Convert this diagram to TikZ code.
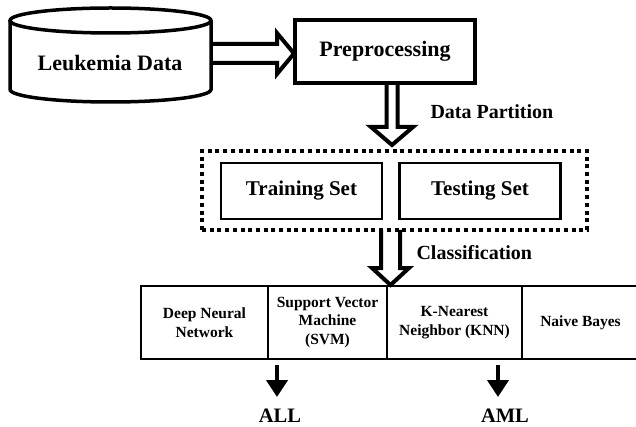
\documentclass[tikz,border=0pt]{standalone}
\usepackage{fontspec}
\setmainfont{Liberation Serif}
\usetikzlibrary{calc,arrows.meta}

% hollow block arrows: start, tip, shaft half width, head half width, head length
\newcommand{\rightblock}[5]{%
  \draw[blockarrow] ($(#1)+(0,-#3)$) -- ($(#2)+(-#5,-#3)$) -- ($(#2)+(-#5,-#4)$) -- (#2)
    -- ($(#2)+(-#5,#4)$) -- ($(#2)+(-#5,#3)$) -- ($(#1)+(0,#3)$);}
\newcommand{\downblock}[5]{%
  \draw[blockarrow] ($(#1)+(-#3,0)$) -- ($(#2)+(-#3,-#5)$) -- ($(#2)+(-#4,-#5)$) -- (#2)
    -- ($(#2)+(#4,-#5)$) -- ($(#2)+(#3,-#5)$) -- ($(#1)+(#3,0)$);}

\begin{document}
\begin{tikzpicture}[x=1pt, y=-1pt,
    bigfont/.style={font=\fontsize{22}{26}\selectfont\bfseries},
    midfont/.style={font=\fontsize{20}{24}\selectfont\bfseries},
    bigbox/.style={draw, line width=3.5pt, bigfont, minimum width=180pt, minimum height=63pt},
    setbox/.style={draw, line width=2.5pt, font=\fontsize{21}{25}\selectfont\bfseries,
      minimum width=161pt, minimum height=56pt},
    dotbox/.style={draw, line width=4pt, dash pattern=on 4pt off 3.7pt},
    cell/.style={draw, line width=2.5pt, align=center, minimum height=73pt,
      font=\fontsize{15.5}{18.5}\selectfont\bfseries},
    blockarrow/.style={line width=4pt, line join=miter},
    cylline/.style={line width=3.5pt},
    outarrow/.style={line width=4pt, -{Triangle[width=21pt,length=17pt]}},
    outlabel/.style={inner sep=0pt, font=\fontsize{20.5}{24}\selectfont\bfseries}]
    \useasboundingbox (0,0) rectangle (636,427);

    % data store
    \draw[cylline] (10,20.5) -- (10,89.5)
      arc[start angle=180, end angle=360, x radius=100.5pt, y radius=12.5pt] -- (211,20.5);
    \draw[cylline] (110.5,20.5) ellipse [x radius=100.5pt, y radius=12.5pt];
    \node[bigfont] (leuk) at (110,63) {Leukemia Data};

    \node[bigbox] (pre) at (385,51.5) {Preprocessing};

    \node[dotbox, minimum width=385pt, minimum height=79pt] (parts) at (394.5,190.5) {};
    \node[setbox] (train) at (301.5,191) {Training Set};
    \node[setbox] (test) at (480,191) {Testing Set};

    % classifiers
    \node[cell, minimum width=127pt] (dnn) at (204.5,322.5) {Deep Neural\\Network};
    \node[cell, minimum width=119pt] (svm) at (327.5,322.5) {Support Vector\\Machine\\(SVM)};
    \node[cell, minimum width=135pt] (knn) at (454.5,322.5) {K-Nearest\\Neighbor (KNN)};
    \node[cell, minimum width=117pt] (nb) at (580.5,322.5) {Naive Bayes};

    \node[outlabel, anchor=north] (all) at (280,409) {ALL};
    \node[outlabel, anchor=north] (aml) at (505,409) {AML};

    % block arrows
    \coordinate (cylout) at (211,53.5);
    \coordinate (prein) at (294,53.5);
    \rightblock{cylout}{prein}{9.5}{20.5}{17}
    \coordinate (prefrom) at (392,83);
    \coordinate (partin) at (392,145);
    \downblock{prefrom}{partin}{5.5}{21}{18}
    \coordinate (partfrom) at (390.5,230);
    \coordinate (cellin) at (390.5,285);
    \downblock{partfrom}{cellin}{9.5}{18.5}{17}
    \node[midfont, anchor=west] (dplabel) at (427,112) {Data Partition};
    \node[midfont, anchor=west] (cllabel) at (413,253) {Classification};

    % outputs
    \coordinate (allfrom) at (277,365);
    \coordinate (amlfrom) at (498,365);
    \draw[outarrow, shorten >=12pt] (allfrom) -- (allfrom |- all.north);
    \draw[outarrow, shorten >=12pt] (amlfrom) -- (amlfrom |- aml.north);
\end{tikzpicture}
\end{document}
